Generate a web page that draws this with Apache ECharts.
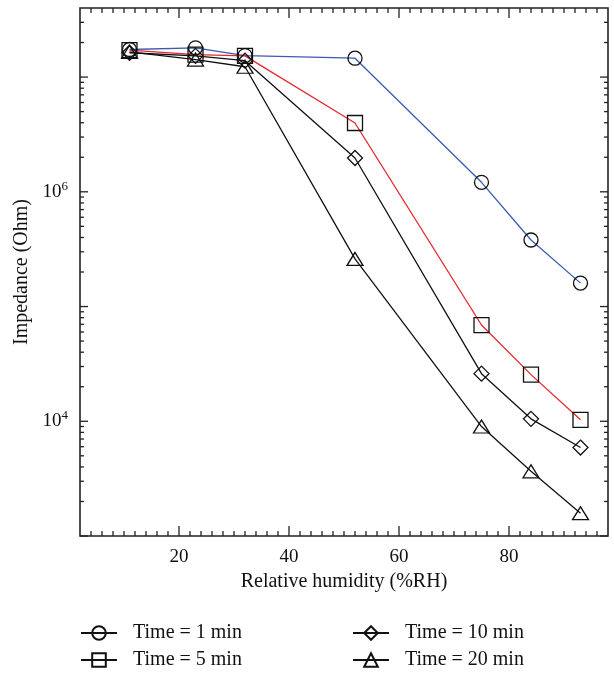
<!DOCTYPE html>
<html>
<head>
<meta charset="utf-8">
<script src="https://cdn.jsdelivr.net/npm/echarts@6/dist/echarts.min.js"></script>
<style>
html,body{margin:0;padding:0;background:#fff;}
#chart{width:614px;height:678px;}
</style>
</head>
<body>
<div id="chart"></div>
<script>
// ---- data ----
var humidity = [11, 23, 32, 52, 75, 84, 93];
var time1min  = [1.74e7, 1.80e7, 1.54e7, 1.46e7, 1.21e6, 3.8e5, 1.6e5];
var time5min  = [1.72e7, 1.57e7, 1.53e7, 3.98e6, 6.9e4, 2.55e4, 1.03e4];
var time10min = [1.63e7, 1.53e7, 1.39e7, 1.97e6, 2.6e4, 1.05e4, 5.9e3];
var time20min = [1.66e7, 1.42e7, 1.23e7, 2.6e5, 9.0e3, 3.66e3, 1.58e3];
var seriesNames = ['Time = 1 min', 'Time = 5 min', 'Time = 10 min', 'Time = 20 min'];
var xLabels = [20, 40, 60, 80];
var yLabelExponents = [4, 6];
var xMin = 2, xMax = 98, xTickStep = 2;
var yMin = 1e3, yMax = 4e7;

// ---- tick positions (axis decoration) ----
var xMinorTicks = [];
for (var t = xMin + xTickStep; t < xMax; t += xTickStep) {
  if (xLabels.indexOf(t) < 0) xMinorTicks.push(t);
}
var yMajorTicks = [], yMinorTicks = [];
for (var e = 3; e <= 7; e++) {
  yMajorTicks.push(Math.pow(10, e));
  for (var m = 2; m <= 9; m++) {
    var v = m * Math.pow(10, e);
    if (v < yMax) yMinorTicks.push(v);
  }
}

var FONT = 'Liberation Serif';
var INK = '#222';

function pairs(ys) { return humidity.map(function (x, i) { return [x, ys[i]]; }); }

function lineSeries(name, ys, color, symbol, size) {
  return {
    type: 'line', name: name, data: pairs(ys),
    symbol: symbol, symbolSize: size,
    lineStyle: { color: color, width: 1.3 },
    itemStyle: { color: 'transparent', borderColor: '#111', borderWidth: 1.3 },
    z: 3
  };
}

function legendBlock(left, names) {
  return {
    left: left, top: 623, height: 60, padding: 0,
    orient: 'vertical', itemWidth: 36, itemHeight: 17, itemGap: 7,
    data: names.map(function (n) { return { name: n, lineStyle: { color: '#111' } }; }),
    textStyle: { fontFamily: FONT, fontSize: 20, color: '#111', padding: [0, 0, 0, 11] }
  };
}

var chart = echarts.init(document.getElementById('chart'), null, { renderer: 'canvas' });

var option = {
  animation: false,
  backgroundColor: '#fff',
  grid: {
    left: 80, top: 8, right: 6, bottom: 142,
    show: true, borderColor: INK, borderWidth: 1.6, backgroundColor: 'transparent'
  },
  xAxis: {
    type: 'value', min: xMin, max: xMax, interval: xTickStep,
    name: 'Relative humidity (%RH)', nameLocation: 'middle', nameGap: 33,
    nameTextStyle: { fontFamily: FONT, fontSize: 20, color: '#111' },
    axisLine: { show: false }, axisTick: { show: false }, splitLine: { show: false },
    axisLabel: {
      margin: 12, fontFamily: FONT, fontSize: 19, color: '#111',
      formatter: function (v) { return xLabels.indexOf(v) >= 0 ? String(v) : ''; }
    }
  },
  yAxis: {
    type: 'log', logBase: 10, min: yMin, max: yMax,
    name: 'Impedance (Ohm)', nameLocation: 'middle', nameGap: 43,
    nameTextStyle: { fontFamily: FONT, fontSize: 20, color: '#111' },
    axisLine: { show: false }, axisTick: { show: false }, splitLine: { show: false },
    axisLabel: {
      margin: 12, color: '#111',
      formatter: function (v) {
        var ex = Math.log10(v), r = Math.round(ex);
        if (Math.abs(ex - r) < 1e-6 && yLabelExponents.indexOf(r) >= 0) return '{b|10}{s|' + r + '}';
        return '';
      },
      rich: {
        b: { fontFamily: FONT, fontSize: 19, color: '#111', lineHeight: 24 },
        s: { fontFamily: FONT, fontSize: 13, color: '#111', lineHeight: 14, verticalAlign: 'top' }
      }
    }
  },
  legend: [
    legendBlock(80, [seriesNames[0], seriesNames[1]]),
    legendBlock(352, [seriesNames[2], seriesNames[3]])
  ],
  series: [
    lineSeries(seriesNames[0], time1min, '#3a5bb0', 'circle', 14),
    lineSeries(seriesNames[1], time5min, '#e8262b', 'rect', 15),
    lineSeries(seriesNames[2], time10min, '#111', 'diamond', 15),
    lineSeries(seriesNames[3], time20min, '#111', 'triangle', [16, 13]),
    {
      type: 'custom', name: 'ticks', silent: true, z: 5, clip: false,
      data: [[xMin, yMin]],
      renderItem: function (params, api) {
        var cs = params.coordSys;
        var left = cs.x, right = cs.x + cs.width, top = cs.y, bottom = cs.y + cs.height;
        var kids = [];
        var st = { stroke: INK, lineWidth: 1.3 };
        function seg(x1, y1, x2, y2) { kids.push({ type: 'line', shape: { x1: x1, y1: y1, x2: x2, y2: y2 }, style: st }); }
        xMinorTicks.forEach(function (v) { var p = api.coord([v, yMin])[0]; seg(p, bottom, p, bottom - 5); seg(p, top, p, top + 5); });
        xLabels.forEach(function (v) { var p = api.coord([v, yMin])[0]; seg(p, bottom, p, bottom - 10); seg(p, top, p, top + 10); });
        yMinorTicks.forEach(function (v) { var p = api.coord([xMin, v])[1]; seg(left, p, left + 4, p); seg(right, p, right - 4, p); });
        yMajorTicks.forEach(function (v) { var p = api.coord([xMin, v])[1]; seg(left, p, left + 8, p); seg(right, p, right - 8, p); });
        return { type: 'group', children: kids };
      }
    }
  ]
};
chart.setOption(option);
</script>
</body>
</html>
